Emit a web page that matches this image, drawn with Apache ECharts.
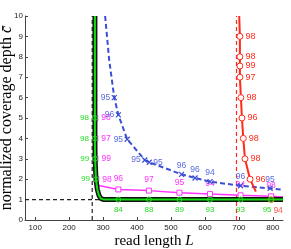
<!DOCTYPE html>
<html><head><meta charset="utf-8">
<script src="https://cdn.jsdelivr.net/npm/echarts@6/dist/echarts.min.js"></script>
<style>html,body{margin:0;padding:0;background:#fff}#c{width:291px;height:249px}</style>
</head><body><div id="c"></div>
<script>
// x tick labels / y range
const xTicks = [100, 200, 300, 400, 500, 600, 700, 800];

// green (and black) curve: read length, depth, marker label ('' = no marker), label side
const greenL = [276, 276, 276, 276.5, 279, 283, 288, 294, 303, 345, 435, 525, 615, 705, 795, 830];
const greenC = [10, 5, 4, 3, 2, 1.5, 1.2, 1.05, 1, 1, 1, 1, 1, 1, 1, 1];
const greenLbl = ['', '98', '98', '99', '99', '', '', '', '', '84', '88', '89', '93', '93', '95', ''];
const greenPos = ['', 'left', 'left', 'left', 'left', '', '', '', '', 'bottom', 'bottom', 'bottom', 'bottom', 'bottom', 'bottom', ''];

// magenta curve
const magL = [277, 277, 277, 277.5, 280, 284, 345, 435, 525, 615, 705, 795, 830];
const magC = [10, 5, 4, 3, 2, 1.7, 1.50, 1.44, 1.34, 1.27, 1.21, 1.16, 1.13];
const magLbl = ['', '98', '97', '99', '98', '', '96', '97', '95', '94', '94', '98', ''];
const magPos = ['', 'right', 'right', 'right', 'right', '', 'top', 'top', 'top', 'top', 'top', 'top', ''];

// blue dashed curve
const blueL = [306, 318, 333, 345, 371, 423, 436, 531, 571, 615, 705, 792, 830];
const blueC = [10, 7.84, 6.0, 5.15, 3.96, 2.94, 2.83, 2.24, 2.06, 1.88, 1.68, 1.55, 1.48];
const blueLbl = ['', '', '95', '96', '95', '95', '95', '96', '96', '94', '96', '95', ''];
const bluePos = ['', '', 'left', 'left', 'left', 'left', 'right', 'top', 'top', 'top', 'top', 'top', ''];

// red curve
const redL = [701, 703, 703, 703, 703, 706, 709, 713, 718, 733, 750];
const redC = [10, 9, 8, 7.55, 7, 6, 5, 4, 3, 2, 1.39];
const redLbl = ['', '98', '98', '99', '97', '98', '96', '98', '98', '96', ''];
const redExtraL = [795];
const redExtraC = [1];
const redExtraLbl = ['94'];

// reference lines
const blackDashV = 268;
const blackDashHEnd = 303;
const redDashV = 693;

const FONT = 'Liberation Sans';

function build(L, C, lbl, pos, color, symbol, symSize, distance, fs, offsets) {
  return L.map((x, i) => {
    const has = lbl[i] !== '';
    const lab = has ? {show: true, formatter: lbl[i], position: pos[i], distance: distance, color: color,
        fontSize: fs, fontFamily: FONT} : {show: false};
    if (has && offsets && offsets[i]) lab.offset = offsets[i];
    return {value: [x, C[i]], symbol: has ? symbol : 'none', symbolSize: symSize, label: lab};
  });
}

const green = '#22dd22', magenta = '#ff33ff', blue = '#3b4fd6', blueText = '#5a6be0', red = '#ff2a1a';
const xSym = 'path://M0,0L10,10M10,0L0,10';
const greenOff = greenL.map((x, i) => i === 14 ? [-4, 0] : null);

const chart = echarts.init(document.getElementById('c'), null, {renderer: 'canvas'});
chart.setOption({
  animation: false,
  backgroundColor: '#fff',
  grid: {left: 25, right: 8, top: 16, bottom: 29, containLabel: false, outerBoundsMode: 'none'},
  xAxis: {
    type: 'value', min: 70, max: 830,
    name: '{n|read length }{i|L}', nameLocation: 'middle', nameGap: 14, nameMoveOverlap: false,
    nameTextStyle: {rich: {n: {fontFamily: 'Liberation Serif', fontSize: 15, color: '#000'},
                           i: {fontFamily: 'Liberation Serif', fontStyle: 'italic', fontSize: 15, color: '#000'}}},
    axisLine: {onZero: false, lineStyle: {color: '#444', width: 1}},
    axisTick: {inside: true, length: 3, customValues: xTicks, lineStyle: {color: '#444'}},
    axisLabel: {customValues: xTicks, fontSize: 8, color: '#222', fontFamily: FONT, margin: 4},
    splitLine: {show: false}
  },
  yAxis: {
    type: 'value', min: 0, max: 10, interval: 1,
    name: '{n|normalized coverage depth }{i|c̄}', nameLocation: 'middle', nameGap: 10, nameRotate: 90,
    nameMoveOverlap: false,
    nameTextStyle: {rich: {n: {fontFamily: 'Liberation Serif', fontSize: 16, color: '#000'},
                           i: {fontFamily: 'Liberation Serif', fontStyle: 'italic', fontSize: 16, color: '#000'}}},
    axisLine: {show: true, onZero: false, lineStyle: {color: '#444', width: 1}},
    axisTick: {show: true, inside: true, length: 3, lineStyle: {color: '#444'}},
    axisLabel: {fontSize: 8, color: '#222', fontFamily: FONT, margin: 2},
    splitLine: {show: false}
  },
  series: [
    {type: 'line', data: [[blackDashV, 0], [blackDashV, 10]], symbol: 'none',
     lineStyle: {color: '#222', width: 1.2, type: [4, 3]}, z: 1},
    {type: 'line', data: [[70, 1], [blackDashHEnd, 1]], symbol: 'none',
     lineStyle: {color: '#222', width: 1.2, type: [4, 3]}, z: 1},
    {type: 'line', data: [[redDashV, 0], [redDashV, 10]], symbol: 'none',
     lineStyle: {color: red, width: 1.2, type: [4, 3]}, z: 1},
    {type: 'line', data: build(magL, magC, magLbl, magPos, magenta, 'rect', 5, 3, 8.5),
     lineStyle: {color: magenta, width: 1.5}, itemStyle: {color: '#fff', borderColor: magenta, borderWidth: 1}, z: 2},
    {type: 'line', data: greenL.map((x, i) => [x, greenC[i]]), symbol: 'none',
     lineStyle: {color: '#111', width: 5}, z: 3},
    {type: 'line', data: build(greenL, greenC, greenLbl, greenPos, green, 'circle', 5, 3, 8, greenOff),
     lineStyle: {color: '#11dd11', width: 2}, itemStyle: {color: 'rgba(0,0,0,0)', borderColor: green, borderWidth: 1}, z: 4},
    {type: 'line', data: build(blueL, blueC, blueLbl, bluePos, blueText, xSym, 5, 1, 8.5),
     lineStyle: {color: blue, width: 2, type: [5, 3]}, itemStyle: {color: 'rgba(0,0,0,0)', borderColor: blue, borderWidth: 1.2}, z: 5},
    {type: 'line', data: build(redL, redC, redLbl, redL.map(() => 'right'), red, 'circle', 6, 2, 9),
     lineStyle: {color: red, width: 2}, itemStyle: {color: '#fff', borderColor: red, borderWidth: 1}, z: 6},
    {type: 'scatter', data: build(redExtraL, redExtraC, redExtraLbl, ['bottom'], red, 'circle', 6, 3, 8.5, [[7, 0]]),
     itemStyle: {color: 'rgba(0,0,0,0)', borderColor: '#b09010', borderWidth: 1}, z: 7}
  ]
});
</script></body></html>
